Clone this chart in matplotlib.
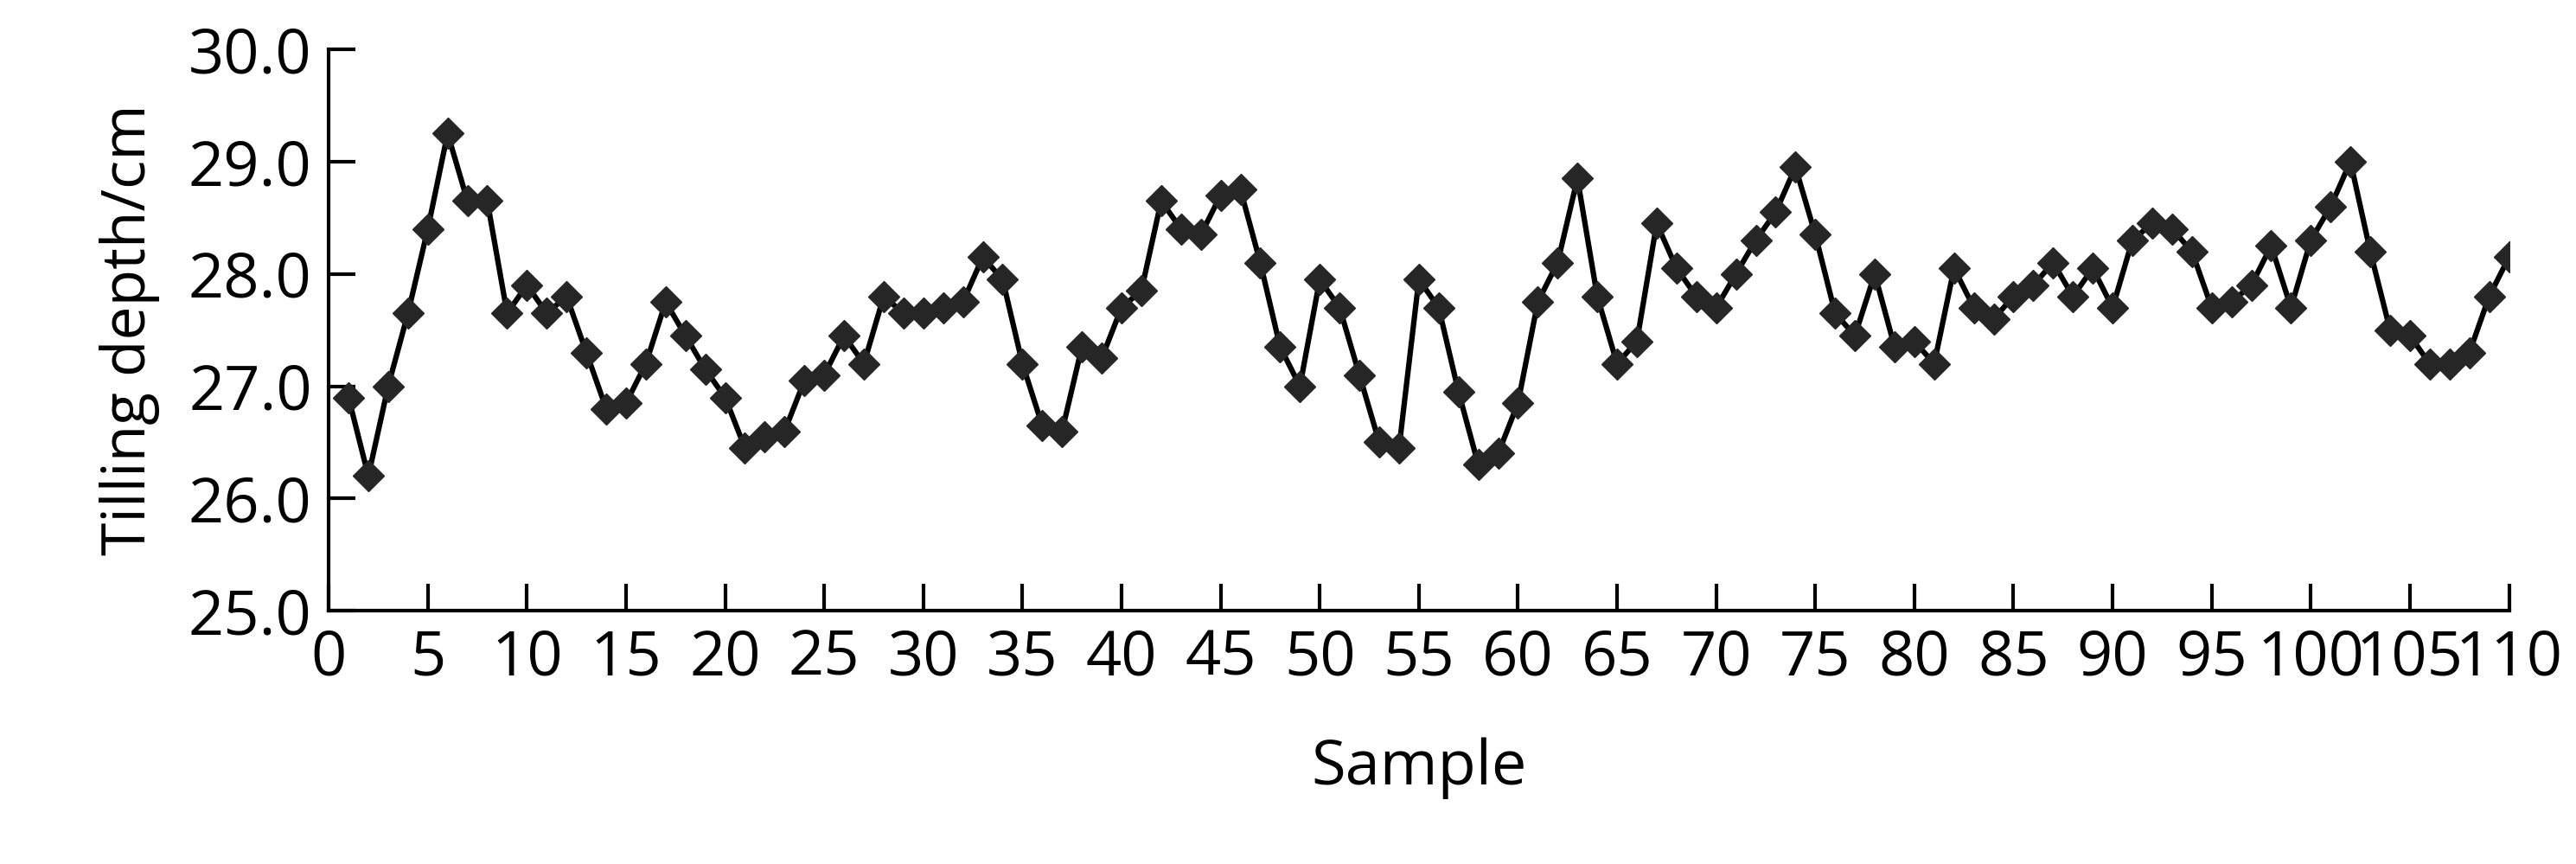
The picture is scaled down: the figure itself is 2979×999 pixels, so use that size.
import numpy as np
from matplotlib import pyplot as plt

# Tilling depth per sample
sample = np.arange(1, 111)
depth = [26.9, 26.2, 27.0, 27.65, 28.4, 29.25, 28.65, 28.65, 27.65, 27.9,
         27.65, 27.8, 27.3, 26.8, 26.85, 27.2, 27.75, 27.45, 27.15, 26.9,
         26.45, 26.55, 26.6, 27.05, 27.1, 27.45, 27.2, 27.8, 27.65, 27.65,
         27.7, 27.75, 28.15, 27.95, 27.2, 26.65, 26.6, 27.35, 27.25, 27.7,
         27.85, 28.65, 28.4, 28.35, 28.7, 28.75, 28.1, 27.35, 27.0, 27.95,
         27.7, 27.1, 26.5, 26.45, 27.95, 27.7, 26.95, 26.3, 26.4, 26.85,
         27.75, 28.1, 28.85, 27.8, 27.2, 27.4, 28.45, 28.05, 27.8, 27.7,
         28.0, 28.3, 28.55, 28.95, 28.35, 27.65, 27.45, 28.0, 27.35, 27.4,
         27.2, 28.05, 27.7, 27.6, 27.8, 27.9, 28.1, 27.8, 28.05, 27.7,
         28.3, 28.45, 28.4, 28.2, 27.7, 27.75, 27.9, 28.25, 27.7, 28.3,
         28.6, 29.0, 28.2, 27.5, 27.45, 27.2, 27.2, 27.3, 27.8, 28.15]
x_ticks = np.arange(0, 111, 5)
y_ticks = np.arange(25.0, 30.01, 1.0)

plt.rcParams['font.family'] = ['Open Sans', 'DejaVu Sans']

fig = plt.figure(figsize=(29.79, 9.99), dpi=100)
ax = fig.add_axes([0.1276, 0.293, 0.8464, 0.65])

ax.plot(sample, depth, color='black', lw=4.5, marker='D', markersize=18,
        markerfacecolor='#262626', markeredgecolor='#262626', zorder=3)

ax.set_xlim(0, 110)
ax.set_ylim(25, 30)
ax.set_xticks(x_ticks)
ax.set_xticklabels([str(t) for t in x_ticks])
ax.set_yticks(y_ticks)
ax.set_yticklabels(['{:.1f}'.format(t) for t in y_ticks])
ax.tick_params(axis='both', direction='in', length=22, width=3, labelsize=52, pad=14)
for s in ['top', 'right']:
    ax.spines[s].set_visible(False)
for s in ['left', 'bottom']:
    ax.spines[s].set_linewidth(3)

ax.set_xlabel('Sample', fontsize=52, labelpad=40)
ax.set_ylabel('Tilling depth/cm', fontsize=50, labelpad=24)

fig.savefig('out.png', dpi=100, facecolor='white')
